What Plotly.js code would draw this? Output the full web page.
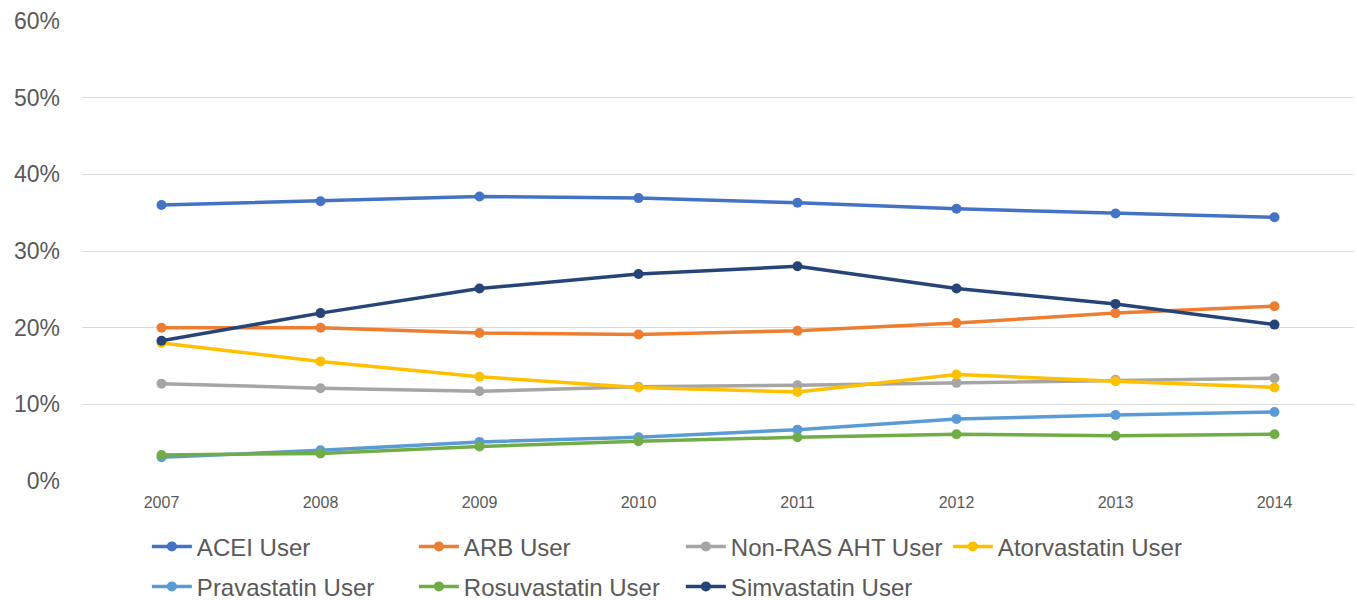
<!DOCTYPE html>
<html>
<head>
<meta charset="utf-8">
<script src="https://cdn.plot.ly/plotly-3.0.1.min.js"></script>
<style>html,body{margin:0;padding:0;background:#fff;}#chart{width:1357px;height:600px;}</style>
</head>
<body>
<div id="chart"></div>
<script>
var years = ['2007','2008','2009','2010','2011','2012','2013','2014'];
var yTickVals = [0, 0.1, 0.2, 0.3, 0.4, 0.5, 0.6];
var yTickText = ['0%','10%','20%','30%','40%','50%','60%'];

var acei = [0.360, 0.365, 0.371, 0.369, 0.363, 0.355, 0.349, 0.344];
var arb = [0.200, 0.200, 0.193, 0.191, 0.196, 0.206, 0.219, 0.228];
var nonRas = [0.127, 0.121, 0.117, 0.123, 0.125, 0.128, 0.132, 0.134];
var atorva = [0.180, 0.156, 0.136, 0.122, 0.116, 0.139, 0.130, 0.122];
var prava = [0.031, 0.040, 0.051, 0.057, 0.067, 0.081, 0.086, 0.090];
var rosuva = [0.034, 0.036, 0.045, 0.052, 0.057, 0.061, 0.059, 0.061];
var simva = [0.183, 0.219, 0.251, 0.270, 0.280, 0.251, 0.231, 0.204];

var seriesNames = ['ACEI User','ARB User','Non-RAS AHT User','Atorvastatin User','Pravastatin User','Rosuvastatin User','Simvastatin User'];
var seriesColors = ['#4472C4','#ED7D31','#A5A5A5','#FFC000','#5B9BD5','#70AD47','#264478'];
var seriesData = [acei, arb, nonRas, atorva, prava, rosuva, simva];
var seriesLegend = ['legend','legend','legend','legend','legend2','legend2','legend2'];

var traces = seriesData.map(function(vals, i){
  return {
    x: years, y: vals, name: seriesNames[i], type: 'scatter', mode: 'lines+markers',
    line: {color: seriesColors[i], width: 3.5},
    marker: {color: seriesColors[i], size: 10},
    legend: seriesLegend[i],
    hoverinfo: 'x+y+name'
  };
});

var legendFont = {family: '"Liberation Sans", Arial, sans-serif', size: 24, color: '#595959'};
var layout = {
  width: 1357, height: 600,
  margin: {l: 82, r: 3, t: 21, b: 119, autoexpand: false},
  paper_bgcolor: '#ffffff', plot_bgcolor: '#ffffff',
  showlegend: true,
  xaxis: {
    type: 'category', range: [-0.5, 7.5], showgrid: false, zeroline: false,
    showline: false, ticks: '', ticklabelstandoff: 10,
    tickfont: {family: '"Liberation Sans", Arial, sans-serif', size: 16, color: '#595959'}
  },
  yaxis: {
    range: [0, 0.6], tickvals: yTickVals, ticktext: yTickText,
    showgrid: true, gridcolor: '#d9d9d9', gridwidth: 1, zeroline: false, showline: false,
    ticks: '', ticklabelstandoff: 21,
    tickfont: {family: '"Liberation Sans", Arial, sans-serif', size: 23, color: '#595959'}
  },
  legend: {
    orientation: 'h', x: 0.051, xanchor: 'left', y: -0.143, yanchor: 'middle',
    itemwidth: 40,
    entrywidth: 212, entrywidthmode: 'pixels', font: legendFont, bgcolor: 'rgba(0,0,0,0)',
    traceorder: 'normal'
  },
  legend2: {
    orientation: 'h', x: 0.051, xanchor: 'left', y: -0.230, yanchor: 'middle',
    itemwidth: 40,
    entrywidth: 212, entrywidthmode: 'pixels', font: legendFont, bgcolor: 'rgba(0,0,0,0)',
    traceorder: 'normal'
  }
};

Plotly.newPlot('chart', traces, layout, {displayModeBar: false, staticPlot: true});
</script>
</body>
</html>
